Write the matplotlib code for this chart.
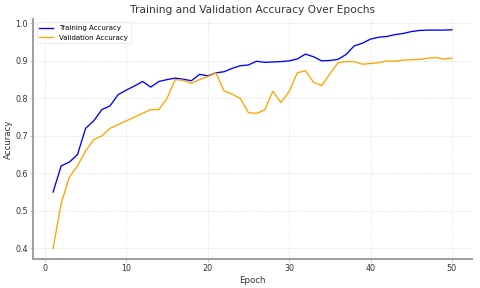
import numpy as np
import matplotlib
matplotlib.use("Agg")
import matplotlib.pyplot as plt

# accuracy per epoch
epochs = list(range(1, 51))
train_acc = [0.55, 0.62, 0.63, 0.65, 0.72, 0.74, 0.77, 0.78, 0.81, 0.822,
             0.833, 0.845, 0.83, 0.845, 0.85, 0.854, 0.851, 0.847, 0.864, 0.86,
             0.868, 0.871, 0.88, 0.887, 0.889, 0.899, 0.896, 0.897, 0.898, 0.90,
             0.905, 0.918, 0.911, 0.90, 0.901, 0.904, 0.917, 0.94, 0.947, 0.958,
             0.963, 0.965, 0.97, 0.973, 0.978, 0.981, 0.982, 0.982, 0.982, 0.983]
val_acc = [0.40, 0.52, 0.59, 0.62, 0.66, 0.69, 0.70, 0.72, 0.73, 0.74,
           0.75, 0.76, 0.77, 0.77, 0.80, 0.85, 0.848, 0.84, 0.85, 0.858,
           0.868, 0.82, 0.811, 0.80, 0.762, 0.76, 0.769, 0.819, 0.789, 0.818,
           0.868, 0.874, 0.843, 0.834, 0.865, 0.895, 0.898, 0.898, 0.891, 0.893,
           0.895, 0.90, 0.899, 0.902, 0.903, 0.904, 0.907, 0.909, 0.905, 0.907]

fig = plt.figure(figsize=(10, 6), dpi=48)
ax = fig.add_axes([0.069, 0.0997, 0.914, 0.835])

ax.plot(epochs, train_acc, color='blue', linewidth=2, label='Training Accuracy')
ax.plot(epochs, val_acc, color='orange', linewidth=2, label='Validation Accuracy')

ax.set_title('Training and Validation Accuracy Over Epochs', fontsize=16, color='#333333', pad=8)
ax.set_xlabel('Epoch', fontsize=13, color='#333333')
ax.set_ylabel('Accuracy', fontsize=13, color='#333333')
ax.tick_params(labelsize=12, colors='#333333', length=4, color='#999999')

ax.grid(True, linestyle=':', color='#cccccc', linewidth=1)
for side in ['top', 'right']:
    ax.spines[side].set_visible(False)
for side in ['left', 'bottom']:
    ax.spines[side].set_color('#a0a0a0')
    ax.spines[side].set_linewidth(3)

ax.legend(loc='upper left', fontsize=10.5, fancybox=False, edgecolor='#dddddd')

fig.savefig('out.png', dpi=48)
